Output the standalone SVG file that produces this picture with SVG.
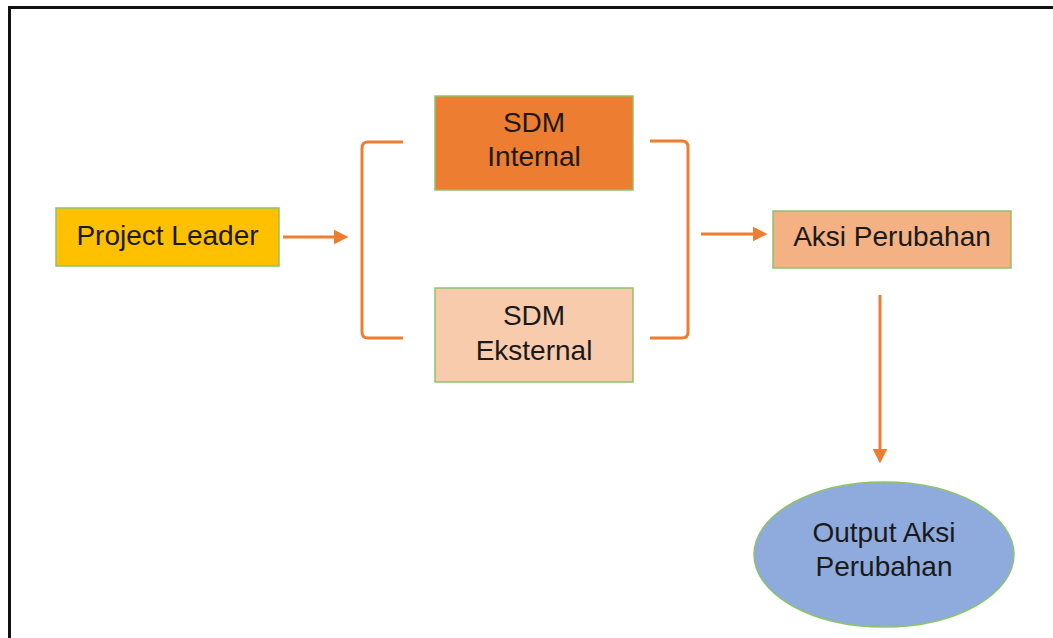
<svg xmlns="http://www.w3.org/2000/svg" width="1053" height="638" viewBox="0 0 1053 638">
<style>
.box{stroke:#8CC36A;stroke-width:1.5}
.t{font-family:"Liberation Sans",Arial,sans-serif;font-size:28px;fill:#1a1a1a;text-anchor:middle;dominant-baseline:central}
.c{fill:none;stroke:#ED7D31;stroke-width:3}
</style>
<defs>
<marker id="ah" markerWidth="5" markerHeight="5" refX="1.5" refY="2.5" orient="auto" markerUnits="strokeWidth">
<path d="M0,0 L5,2.5 L0,5 Z" fill="#ED7D31"/>
</marker>
</defs>
<rect width="1053" height="638" fill="#ffffff"/>
<path d="M9.5,638 V7.5 H1053" fill="none" stroke="#111" stroke-width="3"/>
<g id="connectors">
<path class="c" d="M283,237 H338" marker-end="url(#ah)"/>
<path class="c" d="M403,142 H368 Q362,142 362,148 V332 Q362,338 368,338 H403"/>
<path class="c" d="M650,141 H682 Q688,141 688,147 V332 Q688,338 682,338 H650"/>
<path class="c" d="M701,234 H757" marker-end="url(#ah)"/>
<path class="c" d="M880,295 V453" marker-end="url(#ah)"/>
</g>
<g id="project-leader">
<rect class="box" x="56" y="208" width="223" height="58" fill="#FFC000"/>
<text class="t" x="167.5" y="235">Project Leader</text>
</g>
<g id="sdm-internal">
<rect class="box" x="435" y="96" width="198" height="94" fill="#ED7D31"/>
<text class="t" x="534" y="122">SDM</text>
<text class="t" x="534" y="156">Internal</text>
</g>
<g id="sdm-eksternal">
<rect class="box" x="435" y="288" width="198" height="94" fill="#F8CBAD"/>
<text class="t" x="534" y="315">SDM</text>
<text class="t" x="534" y="350">Eksternal</text>
</g>
<g id="aksi-perubahan">
<rect class="box" x="773" y="211" width="238" height="57" fill="#F4B183"/>
<text class="t" x="892" y="236">Aksi Perubahan</text>
</g>
<g id="output-aksi-perubahan">
<ellipse class="box" cx="884" cy="554.5" rx="130" ry="72.5" fill="#8FAADC"/>
<text class="t" x="884" y="532">Output Aksi</text>
<text class="t" x="884" y="566">Perubahan</text>
</g>
</svg>
